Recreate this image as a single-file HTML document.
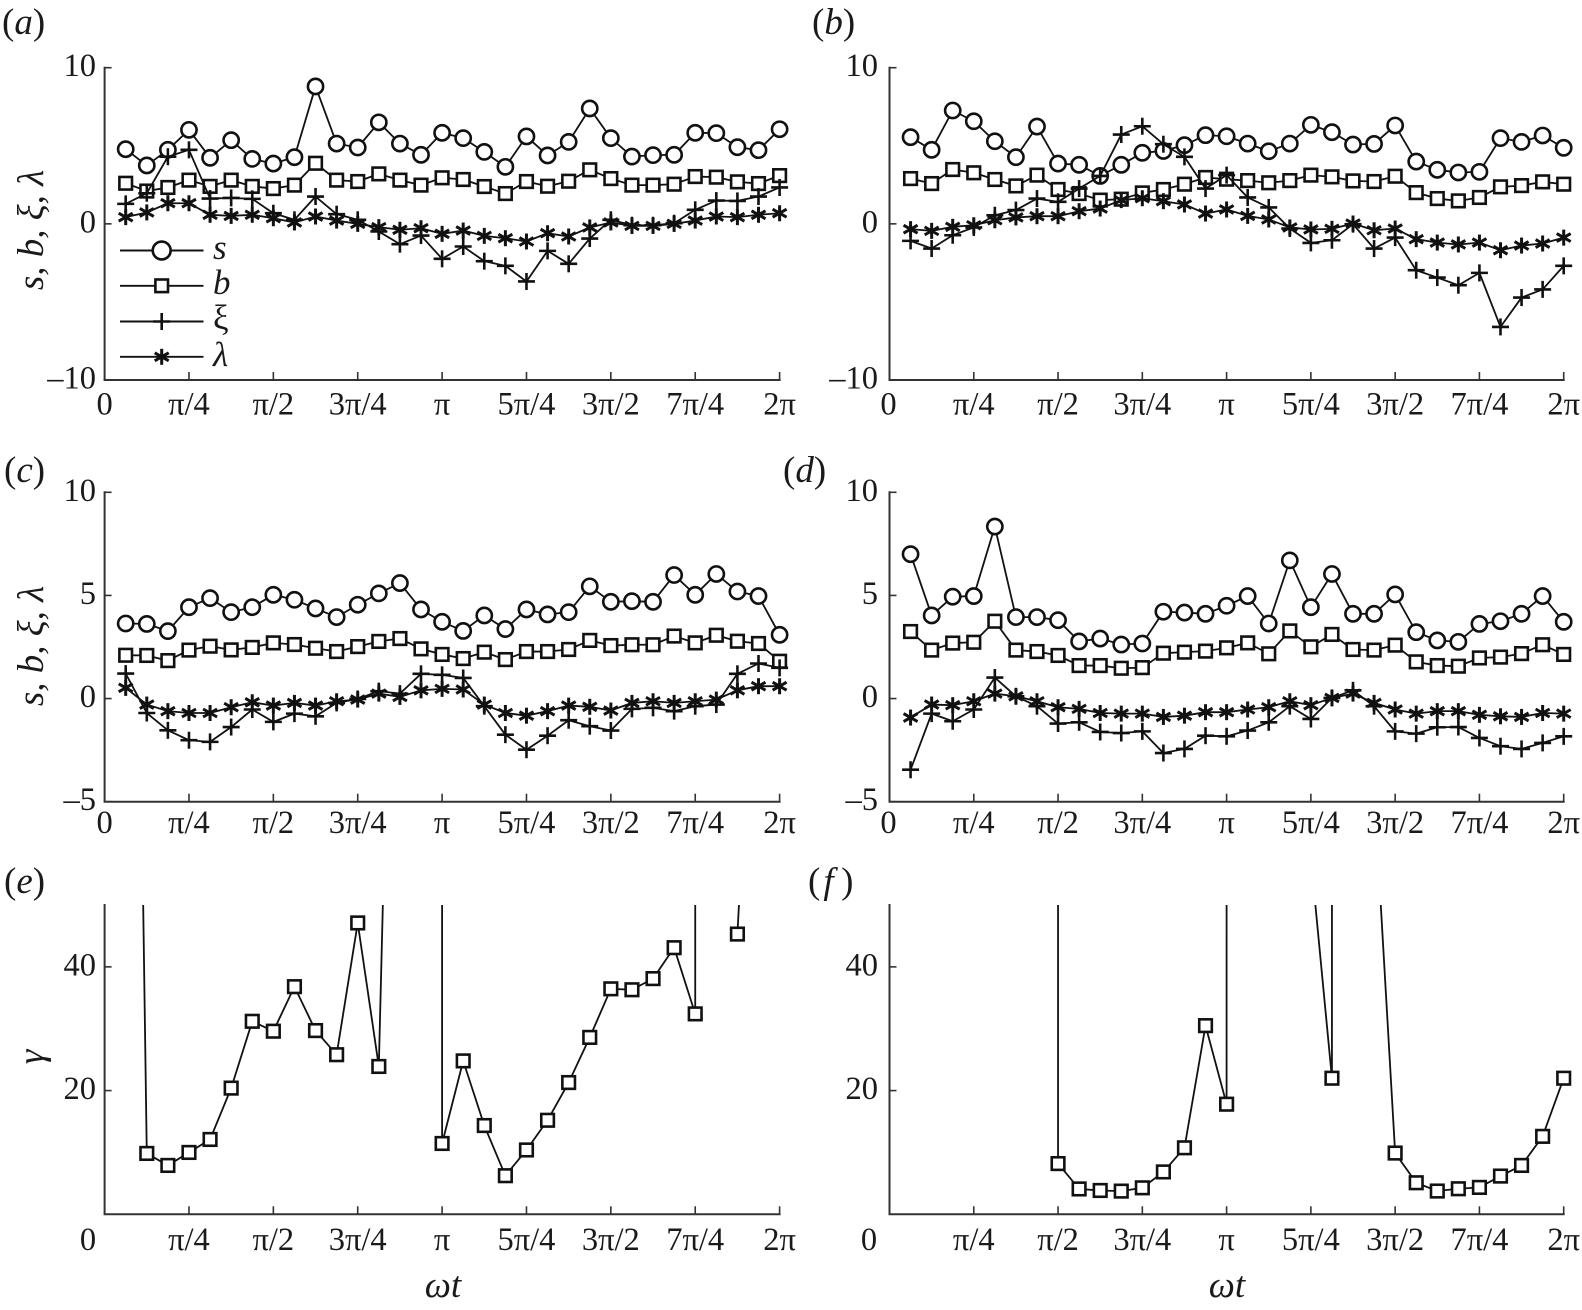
<!DOCTYPE html>
<html>
<head>
<meta charset="utf-8">
<title>Panels of s, b, xi, lambda and gamma against phase</title>
<style>
html,body{margin:0;padding:0;background:#fff;}
svg{display:block;}
text{font-family:"Liberation Serif",serif;fill:#1a1a1a;}
</style>
</head>
<body>
<svg id="figure" width="1582" height="1310" viewBox="0 0 1582 1310" xmlns="http://www.w3.org/2000/svg"></svg>
<script>
// Phase steps: each step is pi/16, so step 32 is 2*pi
const phaseSteps = [1,2,3,4,5,6,7,8,9,10,11,12,13,14,15,16,17,18,19,20,21,22,23,24,25,26,27,28,29,30,31,32];
const xTickSteps = [0,4,8,12,16,20,24,28,32];
const xTickLabels = ['0','π/4','π/2','3π/4','π','5π/4','3π/2','7π/4','2π'];

const yTicksWide = [10,0,-10];
const yTickLabelsWide = ['10','0','–10'];
const yTicksMid = [10,5,0,-5];
const yTickLabelsMid = ['10','5','0','–5'];
const yTicksGamma = [40,20];
const yTickLabelsGamma = ['40','20'];

const aS = [4.78,3.74,4.74,6.02,4.23,5.36,4.16,3.86,4.27,8.8,5.14,4.89,6.5,5.14,4.42,5.83,5.49,4.61,3.65,5.6,4.38,5.25,7.39,5.49,4.31,4.4,4.42,5.83,5.81,4.91,4.72,6.06];
const aB = [2.6,2.1,2.33,2.8,2.4,2.8,2.4,2.26,2.48,3.88,2.8,2.71,3.2,2.8,2.48,2.95,2.84,2.39,1.94,2.71,2.41,2.73,3.46,2.9,2.48,2.48,2.54,3.03,2.99,2.69,2.58,3.09];
const aXi = [1.28,1.96,4.3,4.74,1.62,1.66,1.6,0.68,0.26,1.75,0.62,0.26,-0.49,-1.3,-0.75,-2.24,-1.45,-2.39,-2.69,-3.69,-1.73,-2.56,-0.94,0.26,-0.09,-0.09,0.04,0.9,1.49,1.47,1.75,2.33];
const aLambda = [0.43,0.73,1.32,1.32,0.58,0.51,0.58,0.36,0.09,0.47,0.21,0,-0.21,-0.38,-0.28,-0.64,-0.43,-0.77,-0.92,-1.13,-0.6,-0.81,-0.23,0.09,-0.13,-0.13,0,0.21,0.47,0.43,0.58,0.68];

const bS = [5.55,4.74,7.26,6.57,5.29,4.27,6.23,3.86,3.78,3.07,3.78,4.55,4.67,5.04,5.68,5.61,5.14,4.65,5.14,6.34,5.87,5.08,5.12,6.3,3.99,3.46,3.29,3.33,5.49,5.25,5.66,4.87];
const bB = [2.9,2.58,3.48,3.27,2.84,2.43,3.12,2.2,1.94,1.52,1.58,1.98,2.2,2.54,2.97,2.86,2.77,2.63,2.77,3.12,3.01,2.75,2.71,3.05,2,1.62,1.47,1.69,2.37,2.45,2.69,2.54];
const bXi = [-1.09,-1.58,-0.73,-0.23,0.55,0.88,1.62,1.41,2.26,3.07,5.72,6.25,5.1,4.29,2.26,3.12,1.69,1.05,-0.3,-1.22,-1.05,-0.02,-1.58,-0.88,-2.97,-3.44,-3.93,-3.14,-6.6,-4.72,-4.2,-2.69];
const bLambda = [-0.34,-0.45,-0.19,-0.09,0.23,0.41,0.49,0.49,0.81,0.98,1.52,1.64,1.45,1.24,0.66,0.92,0.51,0.28,-0.23,-0.36,-0.32,0.02,-0.41,-0.3,-0.98,-1.2,-1.32,-1.2,-1.69,-1.39,-1.26,-0.88];

const cS = [3.64,3.62,3.27,4.43,4.87,4.19,4.43,5.03,4.79,4.37,3.95,4.55,5.1,5.6,4.32,3.72,3.28,4.03,3.37,4.32,4.08,4.19,5.44,4.69,4.72,4.69,5.99,5.03,6.04,5.19,4.97,3.09];
const cB = [2.1,2.09,1.84,2.35,2.54,2.36,2.48,2.7,2.62,2.44,2.28,2.52,2.77,2.91,2.41,2.14,1.94,2.25,1.89,2.28,2.28,2.38,2.82,2.57,2.61,2.61,3.03,2.7,3.07,2.78,2.67,1.81];
const cXi = [1.21,-0.7,-1.54,-2.02,-2.1,-1.38,-0.53,-1.13,-0.73,-0.86,-0.21,-0.02,0.36,0.24,1.2,1.15,1,-0.37,-1.75,-2.48,-1.8,-1.05,-1.34,-1.55,-0.5,-0.45,-0.61,-0.37,-0.29,1.2,1.7,1.49];
const cLambda = [0.52,-0.29,-0.61,-0.7,-0.7,-0.42,-0.18,-0.34,-0.21,-0.34,-0.13,-0.05,0.24,0.08,0.4,0.47,0.44,-0.29,-0.7,-0.83,-0.61,-0.34,-0.4,-0.58,-0.21,-0.13,-0.21,-0.13,-0.05,0.4,0.6,0.6];

const dS = [7,4.03,4.94,4.97,8.34,3.95,3.95,3.8,2.77,2.91,2.62,2.67,4.21,4.17,4.11,4.5,4.97,3.64,6.7,4.43,6.04,4.11,4.11,5.05,3.22,2.82,2.75,3.62,3.75,4.11,4.97,3.72];
const dB = [3.25,2.35,2.69,2.73,3.75,2.35,2.28,2.09,1.6,1.6,1.47,1.5,2.2,2.25,2.3,2.46,2.7,2.17,3.28,2.51,3.11,2.38,2.35,2.59,1.78,1.6,1.57,1.97,2.01,2.18,2.61,2.14];
const dXi = [-3.45,-0.73,-1.1,-0.53,1.02,0.11,-0.37,-1.21,-1.15,-1.62,-1.67,-1.59,-2.64,-2.44,-1.8,-1.83,-1.55,-1.15,-0.37,-0.99,0.03,0.4,-0.37,-1.59,-1.7,-1.39,-1.38,-1.91,-2.31,-2.44,-2.15,-1.83];
const dLambda = [-0.92,-0.29,-0.32,-0.13,0.24,0.11,-0.13,-0.42,-0.5,-0.7,-0.73,-0.73,-0.89,-0.83,-0.66,-0.66,-0.53,-0.42,-0.13,-0.32,0.03,0.24,-0.21,-0.53,-0.73,-0.61,-0.61,-0.79,-0.86,-0.89,-0.7,-0.73];

// Gamma runs far off scale in places; very large values leave the plot as near-vertical lines
const eGamma = [245,9.84,7.9,10,12.1,20.4,31.2,29.6,36.8,29.7,25.8,47.1,23.9,161,100000,11.45,24.8,14.35,6.24,10.4,15.2,21.3,28.6,36.45,36.3,38.1,43.1,32.4,100000,45.3,110,200];
const eGammaBreakAfter = [29];
const fGamma = [null,null,null,null,null,null,100000,8.2,4.1,3.85,3.75,4.28,6.85,10.75,30.5,17.8,100000,100000,100000,57.6,22,100000,68.7,9.9,5.1,3.76,4.13,4.35,6.18,7.9,12.6,22];
const fGammaBreakAfter = [];

const seriesLabels = ['s','b','ξ','λ'];
const NS = 'http://www.w3.org/2000/svg';
const svg = document.getElementById('figure');
const TICK_FONT = 32.5;
const TITLE_FONT = 37;
const INK = '#111';
const AXIS_INK = '#333';

function node(parent, tag, attrs) {
  const el = document.createElementNS(NS, tag);
  for (const k in attrs) el.setAttribute(k, attrs[k]);
  parent.appendChild(el);
  return el;
}
function placedText(parent, str, x, y, size, anchor, italic) {
  const el = node(parent, 'text', {x: x, y: y, 'font-size': size, 'text-anchor': anchor});
  if (italic) el.setAttribute('font-style', 'italic');
  el.textContent = str;
  return el;
}
function drawMarker(parent, kind, px, py, size) {
  const g = node(parent, 'g', {transform: 'translate(' + px + ',' + py + ')', stroke: INK, 'stroke-width': 2.6, fill: '#fff'});
  if (kind === 'circle') {
    node(g, 'circle', {r: size * 7.6});
  } else if (kind === 'square') {
    node(g, 'rect', {x: -6.3, y: -6.3, width: 12.6, height: 12.6});
  } else if (kind === 'plus') {
    node(g, 'line', {x1: -8.5, x2: 8.5, y1: 0, y2: 0});
    node(g, 'line', {x1: 0, x2: 0, y1: -8.5, y2: 8.5});
  } else {
    g.setAttribute('stroke-width', 3);
    node(g, 'line', {x1: 0, x2: 0, y1: -8, y2: 8});
    node(g, 'line', {x1: -7, x2: 7, y1: -4, y2: 4});
    node(g, 'line', {x1: -7, x2: 7, y1: 4, y2: -4});
  }
  return g;
}

function drawPanel(panel) {
  const xOf = s => panel.x0 + (panel.x1 - panel.x0) * s / 32;
  const yOf = v => panel.yBottom - (panel.yBottom - panel.yTop) * (v - panel.yMin) / (panel.yMax - panel.yMin);

  const g = node(svg, 'g', {});
  
  

  const label = placedText(g, '', panel.labelX, panel.labelY, TITLE_FONT, 'start', false);
  
  
  const open = node(label, 'tspan', {}); open.textContent = '(';
  const letter = node(label, 'tspan', {'font-style': 'italic', dx: panel.labelGap || 0}); letter.textContent = panel.id;
  const close = node(label, 'tspan', {dx: panel.labelGap ? panel.labelGap * 2.5 : 0}); close.textContent = ')';

  const clipId = 'clip-' + panel.id;
  const defs = node(g, 'defs', {});
  const clip = node(defs, 'clipPath', {id: clipId});
  node(clip, 'rect', {x: panel.x0 - 12, y: panel.yTop, width: panel.x1 - panel.x0 + 30, height: panel.yBottom - panel.yTop + 10});

  const yAxis = node(g, 'line', {x1: panel.x0, x2: panel.x0, y1: panel.yTop - 1, y2: panel.yBottom, stroke: AXIS_INK, 'stroke-width': 2});
  
  
  const xAxis = node(g, 'line', {x1: panel.x0 - 1, x2: panel.x1 + 1, y1: panel.yBottom, y2: panel.yBottom, stroke: AXIS_INK, 'stroke-width': 2});
  
  

  xTickSteps.forEach((s, i) => {
    if (s > 0) {
      const t = node(g, 'line', {x1: xOf(s), x2: xOf(s), y1: panel.yBottom, y2: panel.yBottom - 8, stroke: AXIS_INK, 'stroke-width': 1.6});
      
      
    }
    const lx = s === 0 ? panel.zeroLabelX : xOf(s);
    const tl = placedText(g, xTickLabels[i], lx, panel.xLabelY, TICK_FONT, 'middle', false);
    
    
  });

  panel.yTicks.forEach((v, i) => {
    const t = node(g, 'line', {x1: panel.x0, x2: panel.x0 + 7, y1: yOf(v), y2: yOf(v), stroke: AXIS_INK, 'stroke-width': 1.6});
    
    
    const tl = placedText(g, panel.yTickLabels[i], panel.yLabelRight, yOf(v) + 8.5, TICK_FONT, 'end', false);
    
    
  });

  const plot = node(g, 'g', {'clip-path': 'url(#' + clipId + ')'});
  
  

  panel.series.forEach(ser => {
    const sg = node(plot, 'g', {});
    
    
    const breaks = ser.breakAfter || [];
    let d = '';
    let pen = false;
    phaseSteps.forEach((s, i) => {
      const v = ser.values[i];
      if (v === null || v === undefined) { pen = false; return; }
      d += (pen ? 'L' : 'M') + xOf(s).toFixed(2) + ' ' + yOf(v).toFixed(2);
      pen = breaks.indexOf(s) < 0;
    });
    const line = node(sg, 'path', {d: d, fill: 'none', stroke: INK, 'stroke-width': 1.8, 'stroke-linejoin': 'round'});
    
    
    phaseSteps.forEach((s, i) => {
      const v = ser.values[i];
      if (v === null || v === undefined || v > panel.yMax) return;
      const m = drawMarker(sg, ser.kind, xOf(s), yOf(v), 1);
      
      
    });
  });

  if (panel.yTitle) {
    const yt = node(g, 'text', {
      transform: 'translate(' + panel.yTitleX + ',' + panel.yTitleY + ') rotate(-90)',
      'font-size': TITLE_FONT, 'font-style': 'italic', 'text-anchor': 'middle'
    });
    
    
    yt.textContent = panel.yTitle;
  }
  if (panel.xTitle) {
    const xt = placedText(g, panel.xTitle, panel.xTitleX, 1297, TITLE_FONT, 'middle', true);
    
    
  }
}

function fourSeries(s, b, xi, lambda) {
  return [
    {name: 's', kind: 'circle', values: s},
    {name: 'b', kind: 'square', values: b},
    {name: 'xi', kind: 'plus', values: xi},
    {name: 'lambda', kind: 'star', values: lambda}
  ];
}

const TITLE = 's, b, ξ, λ';
drawPanel({id: 'a', x0: 104.6, x1: 779.6, yTop: 67.7, yBottom: 380, yMin: -10, yMax: 10,
  yTicks: yTicksWide, yTickLabels: yTickLabelsWide, yLabelRight: 96, xLabelY: 414.5, zeroLabelX: 104.6,
  labelX: 2, labelY: 34, yTitle: TITLE, yTitleX: 43, yTitleY: 230, series: fourSeries(aS, aB, aXi, aLambda)});
drawPanel({id: 'b', x0: 889.5, x1: 1563.7, yTop: 67.7, yBottom: 380, yMin: -10, yMax: 10,
  yTicks: yTicksWide, yTickLabels: yTickLabelsWide, yLabelRight: 878, xLabelY: 414.5, zeroLabelX: 888.5,
  labelX: 812, labelY: 34, series: fourSeries(bS, bB, bXi, bLambda)});
drawPanel({id: 'c', x0: 104.6, x1: 779.6, yTop: 492.3, yBottom: 801.7, yMin: -5, yMax: 10,
  yTicks: yTicksMid, yTickLabels: yTickLabelsMid, yLabelRight: 96, xLabelY: 833, zeroLabelX: 104.6,
  labelX: 4, labelY: 482, yTitle: TITLE, yTitleX: 43, yTitleY: 646, series: fourSeries(cS, cB, cXi, cLambda)});
drawPanel({id: 'd', x0: 889.5, x1: 1563.7, yTop: 492.3, yBottom: 801.7, yMin: -5, yMax: 10,
  yTicks: yTicksMid, yTickLabels: yTickLabelsMid, yLabelRight: 878, xLabelY: 833, zeroLabelX: 888.5,
  labelX: 783, labelY: 482, series: fourSeries(dS, dB, dXi, dLambda)});
drawPanel({id: 'e', x0: 104.6, x1: 779.6, yTop: 905, yBottom: 1214.3, yMin: 0, yMax: 50,
  yTicks: yTicksGamma, yTickLabels: yTickLabelsGamma, yLabelRight: 96, xLabelY: 1250, zeroLabelX: 88,
  labelX: 4, labelY: 893, yTitle: 'γ', yTitleX: 43, yTitleY: 1057, xTitle: 'ωt', xTitleX: 443,
  series: [{name: 'gamma', kind: 'square', values: eGamma, breakAfter: eGammaBreakAfter}]});
drawPanel({id: 'f', x0: 889.5, x1: 1563.7, yTop: 905, yBottom: 1214.3, yMin: 0, yMax: 50,
  yTicks: yTicksGamma, yTickLabels: yTickLabelsGamma, yLabelRight: 878, xLabelY: 1250, zeroLabelX: 869,
  labelX: 808, labelY: 893, labelGap: 3, xTitle: 'ωt', xTitleX: 1227,
  series: [{name: 'gamma', kind: 'square', values: fGamma, breakAfter: fGammaBreakAfter}]});

// Legend in panel (a)
const legend = node(svg, 'g', {});


const legendKinds = ['circle','square','plus','star'];
const legendRowY = [250.5, 285.8, 321.5, 356.8];
const legendTextY = [259, 294, 329, 366];
seriesLabels.forEach((lab, i) => {
  const row = node(legend, 'g', {});
  
  
  const swatch = node(row, 'line', {x1: 120, x2: 203.5, y1: legendRowY[i], y2: legendRowY[i], stroke: INK, 'stroke-width': 1.9});
  
  
  const mk = drawMarker(row, legendKinds[i], 161.7, legendRowY[i], i === 0 ? 1.18 : 1);
  
  
  const tx = node(row, 'text', {x: 213, y: legendTextY[i], 'font-size': 35, 'font-style': i === 2 ? 'normal' : 'italic'});
  
  
  tx.textContent = lab;
});
</script>
</body>
</html>
